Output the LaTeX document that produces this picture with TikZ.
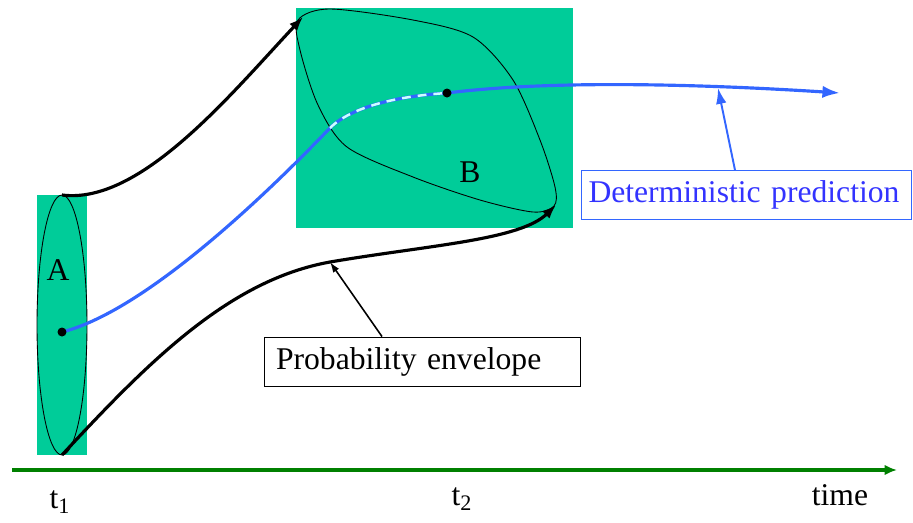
\documentclass[tikz,border=0pt]{standalone}
\usepackage{fontspec}
\setmainfont{Liberation Serif}
\usetikzlibrary{arrows.meta,positioning}
\definecolor{regiongreen}{RGB}{0,204,153}
\definecolor{axisgreen}{RGB}{0,128,0}
\definecolor{predblue}{RGB}{51,102,255}
\definecolor{predtext}{RGB}{51,51,255}
\definecolor{dashcyan}{RGB}{204,255,255}

\begin{document}
\begin{tikzpicture}[x=0.02cm, y=-0.02cm,
  every node/.style={font=\fontsize{18}{22}\selectfont},
  region/.style={fill=regiongreen, draw=none},
  outline/.style={draw=black, line width=0.5pt},
  envelope/.style={line width=1.8pt, -{Latex[length=8pt,width=6pt]}},
  predline/.style={draw=predblue, line width=1.8pt},
  dot/.style={circle, fill=black, inner sep=0pt, minimum size=0.18cm},
  labelbox/.style={draw, line width=0.5pt, minimum height=0.98cm, align=left}
]
  \useasboundingbox (0,0) rectangle (913,522);

  % Regions A and B
  \fill[region] (37,195) rectangle (87,455);
  \fill[region] (296,8) rectangle (573,228);
  \draw[outline] (62,325) ellipse [x radius=0.5cm, y radius=2.6cm];
  \draw[outline] plot[smooth cycle, tension=0.5] coordinates {(298,20) (330,9) (413,20) (473,37) (513,80) (540,140) (555,187) (554,206) (533,212) (480,200) (413,177) (347,147) (318,105) (300,50)};

  \coordinate (Atop) at (62,195);
  \coordinate (Abot) at (62,455);
  \coordinate (Btl) at (303,17);
  \coordinate (Bbr) at (556,205);
  \coordinate (start) at (62,332);
  \coordinate (mid) at (447,93);

  % Probability envelope
  \draw[envelope] (Atop) .. controls (140,205) and (230,95) .. (Btl);
  \draw[envelope] (Abot) .. controls (150,360) and (230,280) .. (330,262) coordinate (envpt)
    .. controls (430,245) and (520,240) .. (Bbr);

  % Deterministic prediction
  \draw[predline] (start) .. controls (150,310) and (280,180) .. (330,128) coordinate (cross)
    .. controls (352,106) and (400,96) .. (mid);
  \draw[dashcyan, line width=1.4pt, dash pattern=on 5pt off 4pt] (cross) .. controls (352,106) and (400,96) .. (mid);
  \draw[predline, -{Latex[length=10pt,width=7pt]}] (mid) .. controls (550,80) and (700,84) .. (840,93) coordinate (predend);
  \coordinate (detpt) at (718,88);

  \node[dot] (dotA) at (start) {};
  \node[dot] (dotB) at (mid) {};

  \node (lblA) at (58,270) {A};
  \node (lblB) at (470,172) {B};

  % Labels with pointers
  \node[labelbox, text width=5.84cm, inner xsep=0.24cm] (envbox) at (422,361.5) {Probability envelope};
  \draw[line width=0.9pt, -{Latex[length=6pt,width=4pt]}] ([xshift=-0.8cm]envbox.north) -- (envpt);
  \node[labelbox, draw=predblue, text=predtext, text width=6.3cm, inner xsep=0.15cm] (detbox) at (746,195) {Deterministic prediction};
  \draw[predblue, line width=1.1pt, -{Latex[length=9pt,width=6pt]}] ([xshift=-0.22cm]detbox.north) -- (detpt);

  % Time axis
  \coordinate (axisstart) at (12,470);
  \coordinate (axisend) at (897,470);
  \draw[axisgreen, line width=2pt, -{Latex[length=7pt,width=6pt]}] (axisstart) -- (axisend);
  \node (t1) at (60,502) {t\textsubscript{1}};
  \node (t2) at (462,499) {t\textsubscript{2}};
  \node (timelbl) at (840,495) {time};
\end{tikzpicture}
\end{document}
